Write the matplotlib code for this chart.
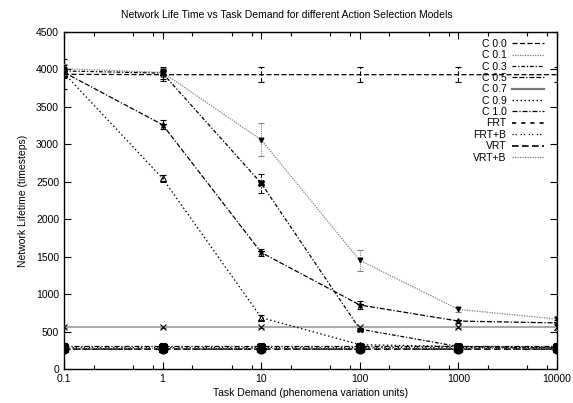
import matplotlib
matplotlib.use("Agg")
import matplotlib.pyplot as plt
from matplotlib.ticker import FixedLocator, NullFormatter, FixedFormatter

plt.rcParams['font.family'] = ['Liberation Sans', 'DejaVu Sans']

x = [0.1, 1, 10, 100, 1000, 10000]
xtick_labels = ["0.1", "1", "10", "100", "1000", "10000"]
yticks = [0, 500, 1000, 1500, 2000, 2500, 3000, 3500, 4000, 4500]

names = ["C 0.0", "C 0.1", "C 0.3", "C 0.5", "C 0.7", "C 0.9", "C 1.0",
         "FRT", "FRT+B", "VRT", "VRT+B"]

c00 = [3935, 3930, 3930, 3930, 3930, 3930]
c00_err = [200, 80, 100, 100, 100, 100]
c01 = [4010, 3960, 3060, 1450, 796, 667]
c01_err = [60, 60, 220, 140, 30, 40]
c03 = [3980, 3950, 2480, 533, 300, 280]
c03_err = [80, 80, 130, 30, 20, 20]
c05 = [3960, 3262, 1556, 855, 640, 615]
c05_err = [60, 60, 50, 50, 20, 40]
c07 = [560, 560, 560, 560, 560, 560]
c07_err = [10, 10, 10, 10, 10, 40]
c09 = [3950, 2545, 687, 325, 300, 290]
c09_err = [60, 50, 30, 20, 15, 15]
c10 = [312, 312, 312, 312, 312, 312]
c10_err = [15, 15, 15, 15, 15, 15]
frt = [272, 272, 272, 272, 272, 272]
frt_err = [20, 20, 20, 20, 20, 20]
frtb = [290, 290, 290, 290, 290, 290]
frtb_err = [15, 15, 15, 15, 15, 15]
vrt = [268, 268, 268, 268, 268, 268]
vrt_err = [15, 15, 15, 15, 15, 15]
vrtb = [276, 276, 276, 276, 276, 276]
vrtb_err = [15, 15, 15, 15, 15, 15]

series = [
    (c00, c00_err, dict(color='black', ls=(0, (4, 2)), lw=0.9, marker=None, ms=0)),
    (c01, c01_err, dict(color='#808080', ls=(0, (1, 1)), lw=0.9, marker='v', ms=3.5)),
    (c03, c03_err, dict(color='black', ls=(0, (3, 1.5, 1, 1.5)), lw=0.9, marker='X', ms=4.5)),
    (c05, c05_err, dict(color='black', ls=(0, (4, 1.5, 4, 1.5, 1, 1.5)), lw=0.9, marker='*', ms=4.5)),
    (c07, c07_err, dict(color='#aaaaaa', ls='-', lw=1.5, marker='x', ms=4, mec='black')),
    (c09, c09_err, dict(color='black', ls=(0, (1.2, 2)), lw=0.9, marker='^', ms=4, mfc='none')),
    (c10, c10_err, dict(color='black', ls=(0, (4, 1.5, 1, 1.5)), lw=0.9, marker='s', ms=5)),
    (frt, frt_err, dict(color='black', ls=(0, (2.5, 3)), lw=1.2, marker='o', ms=6.5)),
    (frtb, frtb_err, dict(color='black', ls=(0, (1, 1.5, 1, 3)), lw=0.9, marker='s', ms=5)),
    (vrt, vrt_err, dict(color='black', ls=(0, (4, 2)), lw=1.2, marker='o', ms=5.5)),
    (vrtb, vrtb_err, dict(color='#777777', ls=(0, (1, 1)), lw=0.9, marker='s', ms=6)),
]

fig = plt.figure(figsize=(5.73, 4.03), dpi=100)
ax = fig.add_axes([64/573, 1-369/403, (557-64)/573, (369-32)/403])

handles = []
for (vals, errs, st), name in zip(series, names):
    mfc = st.get('mfc', 'black')
    mec = st.get('mec', 'black')
    eb = ax.errorbar(x, vals, yerr=errs, color=st['color'] if st['color'] != '#aaaaaa' else '#555555',
                     ls='none', elinewidth=0.8, capsize=2.5, capthick=0.8, zorder=3)
    for c in eb[2]:
        c.set_linestyle(st['ls'])
    ax.plot(x, vals, color=st['color'], ls=st['ls'], lw=st['lw'],
            marker=st['marker'], ms=st['ms'], mfc=mfc, mec=mec, mew=0.8, zorder=4)
    h = matplotlib.lines.Line2D([], [], color=st['color'] if st['color'] != '#aaaaaa' else '#777777',
                                ls=st['ls'], lw=max(st['lw'], 0.9) if st['ls'] != '-' else 1.6)
    handles.append(h)

ax.set_xscale('log')
ax.set_xlim(0.1, 10000)
ax.set_ylim(0, 4500)
ax.xaxis.set_major_locator(FixedLocator(x))
ax.xaxis.set_major_formatter(FixedFormatter(xtick_labels))
minor = []
for d in [0.1, 1, 10, 100, 1000]:
    for m in [2, 5, 8]:
        minor.append(d * m)
ax.xaxis.set_minor_locator(FixedLocator(minor))
ax.xaxis.set_minor_formatter(NullFormatter())
ax.set_yticks(yticks)
ax.tick_params(which='both', direction='in', top=True, right=True, labelsize=7.5)
ax.tick_params(which='major', length=5, width=0.8)
ax.tick_params(which='minor', length=3, width=0.8)
for s in ax.spines.values():
    s.set_linewidth(1.0)

ax.set_xlabel("Task Demand (phenomena variation units)", fontsize=7.5, labelpad=3)
ax.set_ylabel("Network Lifetime (timesteps)", fontsize=7.5, labelpad=6)
fig.text(0.5, 1-15/403, "Network Life Time vs Task Demand for different Action Selection Models",
         ha='center', va='center', fontsize=7.5)

leg = ax.legend(handles, names, loc='upper right', bbox_to_anchor=(544/573, 1-39/403),
                bbox_transform=fig.transFigure, frameon=False, markerfirst=False,
                fontsize=7.5, handlelength=3.1, handletextpad=0.5, labelspacing=0.13,
                borderpad=0, borderaxespad=0)

fig.savefig("out.png", dpi=100)
